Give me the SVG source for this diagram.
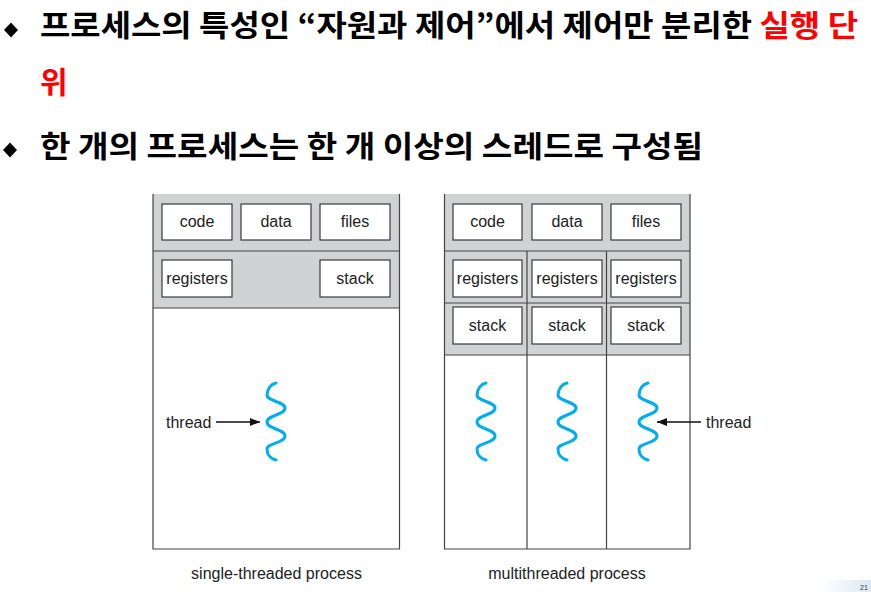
<svg xmlns="http://www.w3.org/2000/svg" width="871" height="592" viewBox="0 0 871 592">
<style>
.title{font-family:"Noto Sans CJK KR","Noto Sans",sans-serif;font-weight:bold;font-size:30px;fill:#000}
.red{fill:#FF0000}
.lbl{font-family:"Liberation Sans",Arial,sans-serif;font-size:16px;fill:#222;text-anchor:middle}
.lbl2{font-family:"Liberation Sans",Arial,sans-serif;font-size:16px;fill:#222}
.band{fill:#D1D2D4}
.box{fill:#fff;stroke:#3a3a3a;stroke-width:1.2}
.edge{stroke:#444;stroke-width:1.2;fill:none}
.thr{fill:none;stroke:#00AEEF;stroke-width:3;stroke-linecap:round}
.arr{stroke:#111;stroke-width:1.6;fill:none}
</style>
<defs>
<path id="wave" class="thr" d="M 0 0 C -5 1, -9 6, -9 12 C -9 18, 9 19, 9 25 C 9 32, -9 32, -9 39 C -9 46, 9 46, 9 53 C 9 60, -9 60, -9 66 C -9 72, -5 76, 0 77"/>
<marker id="ah" markerWidth="10" markerHeight="8" refX="10" refY="4" orient="auto" markerUnits="userSpaceOnUse">
<path d="M0,0 L10,4 L0,8 Z" fill="#111"/>
</marker>
<linearGradient id="corner" x1="0" y1="0" x2="1" y2="0">
<stop offset="0" stop-color="#ffffff"/>
<stop offset="1" stop-color="#dbe8f2"/>
</linearGradient>
</defs>

<g id="title">
<polygon points="11,22.5 18,30 11,37.5 4,30" fill="#000"/>
<text class="title" x="40" y="36" textLength="818" lengthAdjust="spacingAndGlyphs">프로세스의 특성인 “자원과 제어”에서 제어만 분리한 <tspan class="red">실행 단</tspan></text>
<text class="title red" x="40" y="93">위</text>
<polygon points="10,142.5 17,150 10,157.5 3,150" fill="#000"/>
<text class="title" x="40" y="157" textLength="663" lengthAdjust="spacingAndGlyphs">한 개의 프로세스는 한 개 이상의 스레드로 구성됨</text>
</g>

<g id="single-process">
<rect class="band" x="153" y="194" width="246.5" height="114"/>
<rect x="153" y="308" width="246.5" height="241" fill="#fff"/>
<line class="edge" x1="153" y1="251" x2="399.5" y2="251"/>
<line class="edge" x1="153" y1="308" x2="399.5" y2="308"/>
<path class="edge" d="M153,194 V549 H399.5 V194"/>
<g id="s-code"><rect class="box" x="162" y="204" width="70" height="36"/><text class="lbl" x="197" y="227">code</text></g>
<g id="s-data"><rect class="box" x="241" y="204" width="70" height="36"/><text class="lbl" x="276" y="227">data</text></g>
<g id="s-files"><rect class="box" x="320" y="204" width="70" height="36"/><text class="lbl" x="355" y="227">files</text></g>
<g id="s-registers"><rect class="box" x="162" y="260" width="70" height="37"/><text class="lbl" x="197" y="284">registers</text></g>
<g id="s-stack"><rect class="box" x="320" y="260" width="70" height="37"/><text class="lbl" x="355" y="284">stack</text></g>
<g id="s-thread"><use href="#wave" x="276" y="383"/></g>
<text class="lbl" x="276.5" y="579">single-threaded process</text>
</g>

<g id="multi-process">
<rect class="band" x="444.5" y="194" width="245.5" height="161"/>
<rect x="444.5" y="355" width="245.5" height="194" fill="#fff"/>
<line class="edge" x1="444.5" y1="251" x2="690" y2="251"/>
<line class="edge" x1="444.5" y1="303" x2="690" y2="303"/>
<line class="edge" x1="444.5" y1="355" x2="690" y2="355"/>
<line class="edge" x1="527" y1="251" x2="527" y2="549"/>
<line class="edge" x1="606.5" y1="251" x2="606.5" y2="549"/>
<path class="edge" d="M444.5,194 V549 H690 V194"/>
<g id="m-code"><rect class="box" x="453" y="204" width="69" height="36"/><text class="lbl" x="487.5" y="227">code</text></g>
<g id="m-data"><rect class="box" x="532" y="204" width="70" height="36"/><text class="lbl" x="567" y="227">data</text></g>
<g id="m-files"><rect class="box" x="611" y="204" width="70" height="36"/><text class="lbl" x="646" y="227">files</text></g>
<g id="m-registers1"><rect class="box" x="453" y="260" width="69" height="37"/><text class="lbl" x="487.5" y="284">registers</text></g>
<g id="m-registers2"><rect class="box" x="532" y="260" width="70" height="37"/><text class="lbl" x="567" y="284">registers</text></g>
<g id="m-registers3"><rect class="box" x="611" y="260" width="70" height="37"/><text class="lbl" x="646" y="284">registers</text></g>
<g id="m-stack1"><rect class="box" x="453" y="307" width="69" height="37"/><text class="lbl" x="487.5" y="331">stack</text></g>
<g id="m-stack2"><rect class="box" x="532" y="307" width="70" height="37"/><text class="lbl" x="567" y="331">stack</text></g>
<g id="m-stack3"><rect class="box" x="611" y="307" width="70" height="37"/><text class="lbl" x="646" y="331">stack</text></g>
<g id="m-thread1"><use href="#wave" x="486" y="383"/></g>
<g id="m-thread2"><use href="#wave" x="567" y="383"/></g>
<g id="m-thread3"><use href="#wave" x="648" y="383"/></g>
<text class="lbl" x="567" y="579">multithreaded process</text>
</g>

<g id="connectors">
<text class="lbl2" x="166" y="428">thread</text>
<line class="arr" x1="216" y1="422" x2="260" y2="422" marker-end="url(#ah)"/>
<line class="arr" x1="701" y1="422" x2="657" y2="422" marker-end="url(#ah)"/>
<text class="lbl2" x="706" y="428">thread</text>
</g>

<g id="page-corner">
<rect x="820" y="580" width="51" height="12" fill="url(#corner)"/>
<text x="860" y="590" font-family="Liberation Sans,Arial,sans-serif" font-size="7" fill="#333">21</text>
</g>
</svg>
